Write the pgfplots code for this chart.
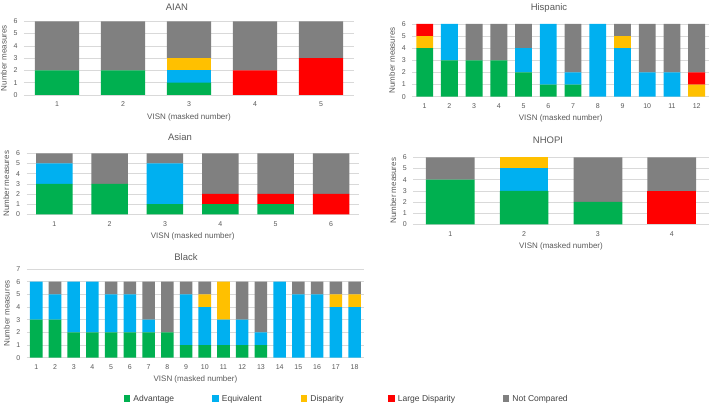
\documentclass[border=0pt]{standalone}
\usepackage{fontspec}
\setmainfont{Liberation Sans}
\usepackage{pgfplots}
\pgfplotsset{compat=1.18}
\usepackage{pgfplotstable}
\definecolor{cA}{HTML}{00B050}
\definecolor{cE}{HTML}{00B0F0}
\definecolor{cD}{HTML}{FFC000}
\definecolor{cL}{HTML}{FF0000}
\definecolor{cN}{HTML}{808080}
\definecolor{txt}{HTML}{595959}
\definecolor{leg}{HTML}{404040}
\definecolor{grd}{HTML}{D9D9D9}

\pgfplotstableread{
x A E D L N
1 2 0 0 0 4
2 2 0 0 0 4
3 1 1 1 0 3
4 0 0 0 2 4
5 0 0 0 3 3
}\aian
\pgfplotstableread{
x A E D L N
1 4 0 1 1 0
2 3 3 0 0 0
3 3 0 0 0 3
4 3 0 0 0 3
5 2 2 0 0 2
6 1 5 0 0 0
7 1 1 0 0 4
8 0 6 0 0 0
9 0 4 1 0 1
10 0 2 0 0 4
11 0 2 0 0 4
12 0 0 1 1 4
}\hisp
\pgfplotstableread{
x A E D L N
1 3 2 0 0 1
2 3 0 0 0 3
3 1 4 0 0 1
4 1 0 0 1 4
5 1 0 0 1 4
6 0 0 0 2 4
}\asian
\pgfplotstableread{
x A E D L N
1 4 0 0 0 2
2 3 2 1 0 0
3 2 0 0 0 4
4 0 0 0 3 3
}\nhopi
\pgfplotstableread{
x A E D L N
1 3 3 0 0 0
2 3 2 0 0 1
3 2 4 0 0 0
4 2 4 0 0 0
5 2 3 0 0 1
6 2 3 0 0 1
7 2 1 0 0 3
8 2 0 0 0 4
9 1 4 0 0 1
10 1 3 1 0 1
11 1 2 3 0 0
12 1 2 0 0 3
13 1 1 0 0 4
14 0 6 0 0 0
15 0 5 0 0 1
16 0 5 0 0 1
17 0 4 1 0 1
18 0 4 1 0 1
}\black

\pgfplotsset{panel/.style={
  scale only axis, ybar stacked, ymin=0, ymax=6, ytick={0,...,6},
  xmin=0.5,
  axis line style={draw=none}, tick style={draw=none}, major tick length=0pt,
  ymajorgrids, grid style={grd, line width=0.5pt},
  /pgf/number format/assume math mode=true,
  tick label style={font=\fontsize{7}{8}\selectfont, text=txt},
  xticklabel style={yshift=-3.5pt},
  yticklabel style={xshift=-3pt},
  label style={font=\fontsize{8}{9}\selectfont, text=txt},
  xlabel={VISN (masked number)},
  ylabel={Number measures},
  xlabel style={at={(axis description cs:0.5,0)}, anchor=center, yshift=-22pt},
  title style={font=\fontsize{9.5}{10}\selectfont, text=txt, anchor=center},
}}
\newcommand{\stackplots}[1]{%
  \addplot[fill=cA, draw=none] table[x=x,y=A]{#1};
  \addplot[fill=cE, draw=none] table[x=x,y=E]{#1};
  \addplot[fill=cD, draw=none] table[x=x,y=D]{#1};
  \addplot[fill=cL, draw=none] table[x=x,y=L]{#1};
  \addplot[fill=cN, draw=none] table[x=x,y=N]{#1};
}

\begin{document}
\begin{tikzpicture}
\useasboundingbox (0pt,0pt) rectangle (709pt,406pt);

% AIAN
\begin{axis}[panel, at={(24pt,311pt)}, anchor=south west,
  width=330pt, height=73.7pt, xmax=5.5, xtick={1,...,5}, bar width=0.667,
  title={AIAN}, title style={at={(axis description cs:0.4636,1)}, yshift=8pt}]
\stackplots{\aian}
\end{axis}

% Hispanic
\begin{axis}[panel, at={(412.3pt,309.3pt)}, anchor=south west,
  width=296.7pt, height=72.7pt, xmax=12.5, xtick={1,...,12}, bar width=0.68,
  title={Hispanic}, title style={at={(axis description cs:0.4607,1)}, yshift=9.7pt}]
\stackplots{\hisp}
\end{axis}

% Asian
\begin{axis}[panel, at={(26.6pt,191.7pt)}, anchor=south west,
  width=332.1pt, height=61pt, xmax=6.5, xtick={1,...,6}, bar width=0.66,
  title={Asian}, title style={at={(axis description cs:0.462,1)}, yshift=10pt}]
\stackplots{\asian}
\end{axis}

% NHOPI
\begin{axis}[panel, at={(413.4pt,181.7pt)}, anchor=south west,
  width=295.2pt, height=67pt, xmax=4.5, xtick={1,...,4}, bar width=0.66,
  title={NHOPI}, title style={at={(axis description cs:0.456,1)}, yshift=10.6pt}]
\stackplots{\nhopi}
\end{axis}

% Black
\begin{axis}[panel, at={(26.9pt,48.3pt)}, anchor=south west,
  width=337pt, height=88.7pt, xmax=18.5, xtick={1,...,18}, bar width=0.67,
  ymax=7, ytick={0,...,7},
  title={Black}, title style={at={(axis description cs:0.472,1)}, yshift=6.3pt},
  legend columns=5,
  legend style={at={(axis description cs:0.288,-0.4656)}, anchor=west,
    draw=none, fill=none, inner sep=0pt, outer sep=0pt,
    nodes={inner sep=0pt}, font=\fontsize{8.5}{9}\selectfont, text=leg,
    /tikz/every odd column/.append style={column sep=3pt}},
  legend cell align=left,
  legend image code/.code={\fill[#1] (0pt,-3pt) rectangle (6.5pt,3.5pt);}]
\stackplots{\black}
\legend{\makebox[79pt][l]{Advantage},\makebox[79pt][l]{Equivalent},\makebox[78pt][l]{Disparity},\makebox[105pt][l]{Large Disparity},Not Compared}
\end{axis}
\end{tikzpicture}
\end{document}
